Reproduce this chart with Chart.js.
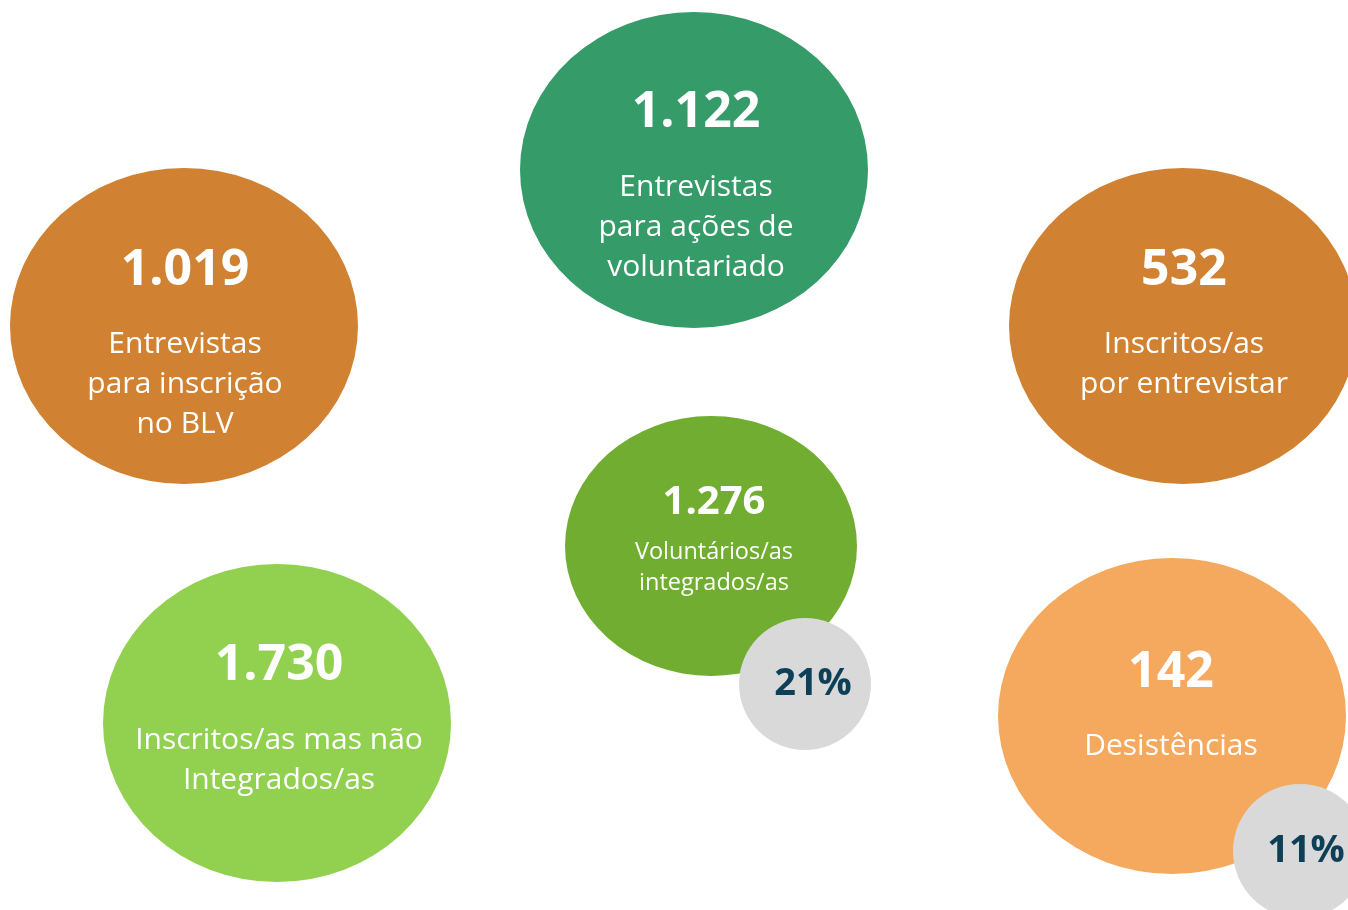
<!DOCTYPE html>
<html>
<head>
<meta charset="utf-8">
<script src="https://cdn.jsdelivr.net/npm/chart.js@4/dist/chart.umd.min.js"></script>
<style>
  html, body { margin: 0; padding: 0; background: #ffffff; overflow: hidden; }
  #wrap { width: 1348px; height: 910px; position: relative; }
</style>
</head>
<body>
<div id="wrap"><canvas id="bolhas"></canvas></div>
<script>
// dados
const valores = [1122, 1019, 532, 1276, 1730, 142];
const rotulos = [
  ["Entrevistas", "para ações de", "voluntariado"],
  ["Entrevistas", "para inscrição", "no BLV"],
  ["Inscritos/as", "por entrevistar"],
  ["Voluntários/as", "integrados/as"],
  ["Inscritos/as mas não", "Integrados/as"],
  ["Desistências"]
];
const percentagens = [21, 11];

// disposição (unidades das escalas = pixels da imagem)
const centroX = [694, 184, 1183, 711, 277, 1172];
const centroY = [170, 326, 326, 546, 723, 716];
const raioX = [174, 174, 174, 146, 174, 174];
const raioY = [158, 158, 158, 130, 159, 158];
const cores = ["#359b69", "#d08232", "#d08232", "#71ad30", "#92d050", "#f5a95e"];
const textoX = [696, 185, 1184, 714, 279, 1171];
const numDy = [-57, -55, -55, -43, -57, -43];
const rotDy = [17, 18, 18, 6, 17, 30];
const numFonte = [50, 50, 50, 40, 50, 50];
const rotFonte = [30, 30, 30, 23.5, 30, 30];
const rotAltura = [40, 40, 40, 31, 40, 40];

const pctX = [805, 1300];
const pctY = [684, 851];
const pctRaio = [66, 67];
const pctTextoX = [813, 1306];

function fmt(n) {
  return String(n).replace(/\B(?=(\d{3})+(?!\d))/g, ".");
}

const FONTE = "'Open Sans', 'Noto Sans', sans-serif";

const elipses = {
  id: "elipses",
  afterDatasetsDraw(chart) {
    const c = chart.ctx;
    const sx = chart.scales.x, sy = chart.scales.y;
    const meta = chart.getDatasetMeta(0);
    const metaP = chart.getDatasetMeta(1);

    meta.data.forEach((pt, i) => {
      const rx = Math.abs(sx.getPixelForValue(centroX[i] + raioX[i]) - pt.x);
      const ry = Math.abs(sy.getPixelForValue(centroY[i] + raioY[i]) - pt.y);
      c.save();
      c.fillStyle = cores[i];
      c.beginPath();
      c.ellipse(pt.x, pt.y, rx, ry, 0, 0, Math.PI * 2);
      c.fill();

      const tx = sx.getPixelForValue(textoX[i]);
      c.fillStyle = "#ffffff";
      c.textAlign = "center";
      c.textBaseline = "middle";
      c.font = "bold " + numFonte[i] + "px " + FONTE;
      c.fillText(fmt(valores[i]), tx, pt.y + numDy[i]);
      c.font = rotFonte[i] + "px " + FONTE;
      rotulos[i].forEach((l, k) => {
        c.fillText(l, tx, pt.y + rotDy[i] + k * rotAltura[i]);
      });
      c.restore();
    });

    metaP.data.forEach((pt, i) => {
      const r = Math.abs(sx.getPixelForValue(pctX[i] + pctRaio[i]) - pt.x);
      c.save();
      c.fillStyle = "#d9d9d9";
      c.beginPath();
      c.arc(pt.x, pt.y, r, 0, Math.PI * 2);
      c.fill();
      c.fillStyle = "#0d3f56";
      c.textAlign = "center";
      c.textBaseline = "middle";
      c.font = "bold 38px " + FONTE;
      c.fillText(percentagens[i] + "%", sx.getPixelForValue(pctTextoX[i]), pt.y);
      c.restore();
    });
  }
};

new Chart(document.getElementById("bolhas").getContext("2d"), {
  type: "scatter",
  data: {
    datasets: [
      {
        label: "Indicadores",
        data: valores.map((v, i) => ({ x: centroX[i], y: centroY[i], v: v })),
        pointRadius: 0,
        pointHoverRadius: 0
      },
      {
        label: "Percentagens",
        data: percentagens.map((p, i) => ({ x: pctX[i], y: pctY[i], v: p })),
        pointRadius: 0,
        pointHoverRadius: 0
      }
    ]
  },
  options: {
    responsive: true,
    maintainAspectRatio: false,
    animation: false,
    layout: { padding: 0 },
    scales: {
      x: { type: "linear", min: 0, max: 1348, display: false },
      y: { type: "linear", min: 0, max: 910, reverse: true, display: false }
    },
    plugins: {
      legend: { display: false },
      tooltip: { enabled: false }
    }
  },
  plugins: [elipses]
});
</script>
</body>
</html>
